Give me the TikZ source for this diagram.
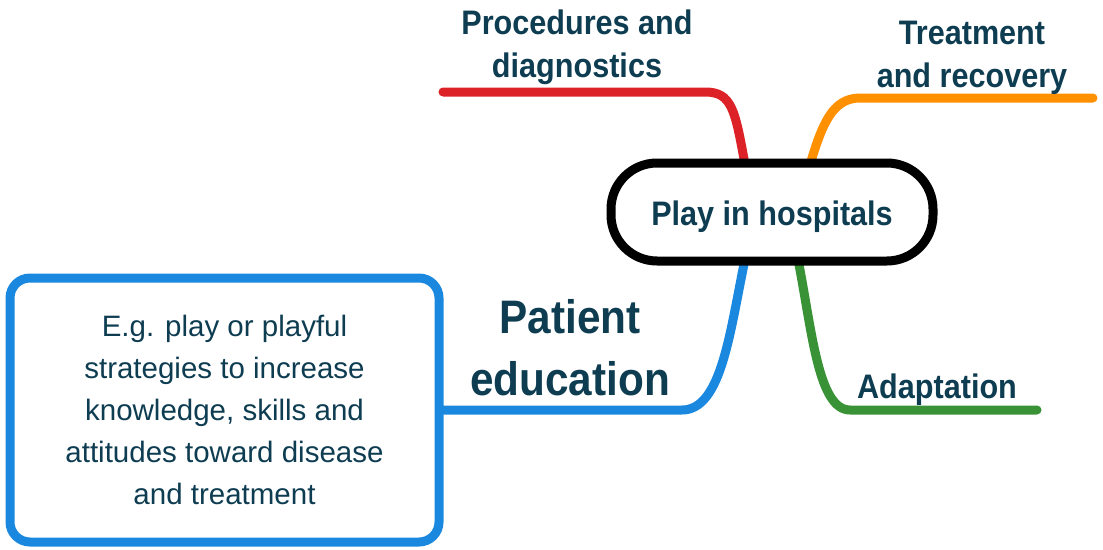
\documentclass[tikz,border=0pt]{standalone}
\usepackage{fontspec}
\setmainfont{Liberation Sans}
\newfontfamily\labfont[FakeStretch=0.9]{Liberation Sans Bold}
\usetikzlibrary{calc,backgrounds}
\definecolor{txt}{RGB}{14,61,82}
\definecolor{bred}{RGB}{220,33,39}
\definecolor{borange}{RGB}{255,144,0}
\definecolor{bblue}{RGB}{26,136,222}
\definecolor{bgreen}{RGB}{58,146,54}
\begin{document}
\begin{tikzpicture}[x=1pt,y=-1pt,
  branch/.style={line width=9pt,line cap=round},
  lab/.style={text=txt,font=\labfont\fontsize{34}{43}\selectfont,align=center,inner sep=0pt}]
\useasboundingbox (0,0) rectangle (1103,549);
\node[draw=black,line width=9pt,fill=white,rounded corners=46pt,minimum width=322pt,minimum height=98pt,inner sep=0pt,text height=26pt,text depth=0pt,text=txt,font=\labfont\fontsize{34}{40}\selectfont] (hub) at (772,212) {Play in hospitals};
\node[draw=bblue,line width=9pt,fill=white,rounded corners=20pt,minimum width=429pt,minimum height=264pt,inner sep=0pt,text=txt,align=center,font=\fontsize{29.5}{42}\selectfont] (box) at (224.5,410) {E.g. play or playful\\strategies to increase\\knowledge, skills and\\attitudes toward disease\\and treatment};
\node[lab,anchor=base] (proc) at (577,77) {Procedures and\\diagnostics};
\node[lab,anchor=base] (treat) at (972,87) {Treatment\\and recovery};
\node[lab,font=\labfont\fontsize{47}{62}\selectfont,anchor=base] (pe) at (570,395) {Patient\\education};
\node[lab,anchor=base] (adapt) at (937,398) {Adaptation};
\coordinate (redend) at (443,92);
\coordinate (orend) at (1093,98);
\coordinate (grend) at (1037,410);
\begin{scope}[on background layer]
\draw[branch,bred] ($(hub.north)+(-27,6)$) .. controls (735,110) and (732,92) .. (705,92) -- (redend);
\draw[branch,borange] ($(hub.north)+(38,6)$) .. controls (822,125) and (832,98) .. (860,98) -- (orend);
\draw[branch,bblue] ($(hub.south)+(-27,-6)$) .. controls (730,330) and (722,410) .. (682,410) -- (box.east);
\draw[branch,bgreen] ($(hub.south)+(26,-6)$) .. controls (812,330) and (818,410) .. (850,410) -- (grend);
\end{scope}
\end{tikzpicture}
\end{document}
